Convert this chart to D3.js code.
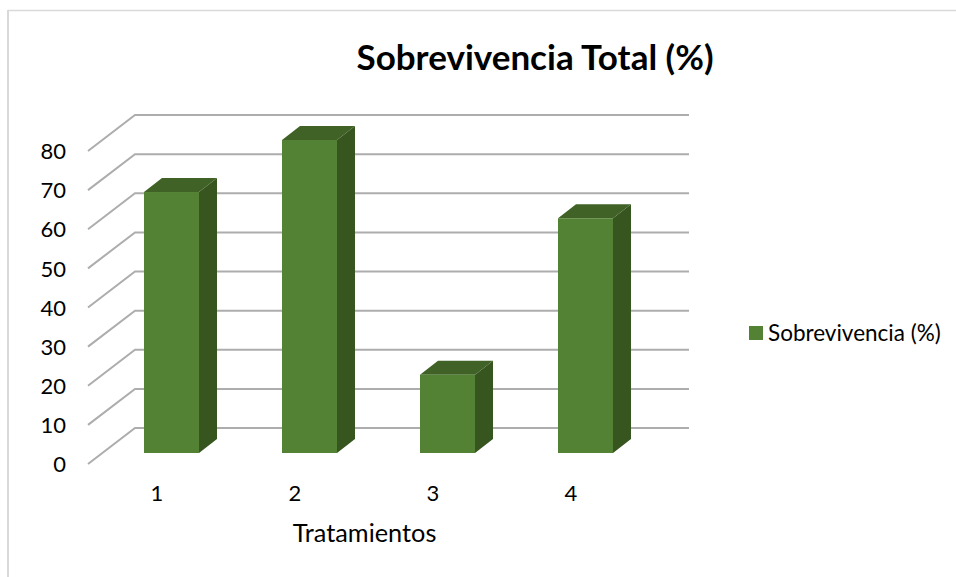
<!DOCTYPE html>
<html><head><meta charset="utf-8">
<script src="https://cdn.jsdelivr.net/npm/d3@7/dist/d3.min.js"></script>
<style>html,body{margin:0;padding:0;background:#fff}svg{display:block}text{font-family:Lato,"Open Sans",sans-serif;fill:#000}</style>
</head><body><svg id="c" width="956" height="577"></svg>
<script>
const categories=["1","2","3","4"];
const seriesName="Sobrevivencia (%)";
const values=[66.7,80,20,60];
const yTicks=[0,10,20,30,40,50,60,70,80];
const titleText="Sobrevivencia Total (%)";
const xTitle="Tratamientos";

const svg=d3.select("#c");
const x=d3.scaleBand().domain(categories).range([88,640]);
const y=d3.scaleLinear().domain([0,80]).range([453,140]);
const barW=55, dx=18, dy=14, barShift=x.step()/2+14.5-barW/2;
const gridFrontY=v=>y(v)+11, gridBackY=v=>y(v)-25;
const xFront=88,xBack=135,xEnd=689;

svg.append("path").attr("d","M956,10.5H8").attr("fill","none").attr("stroke","#d9d9d9").attr("stroke-width",1.5);
svg.append("rect").attr("x",7).attr("y",10).attr("width",2).attr("height",567).attr("fill","#d9d9d9");

const grid=svg.append("g").attr("fill","none").attr("stroke","#adadad").attr("stroke-width",2);
grid.selectAll("path").data(yTicks).join("path")
  .attr("d",v=>`M${xFront},${gridFrontY(v)}L${xBack},${gridBackY(v)}H${xEnd}`);

svg.append("g").selectAll("text").data(yTicks).join("text")
  .attr("x",66).attr("y",v=>gridFrontY(v)+0.5).attr("dy","0.35em")
  .attr("text-anchor","end").attr("font-size",22).text(d=>d);

const bars=svg.append("g").selectAll("g").data(categories).join("g");
bars.each(function(c,i){
  const g=d3.select(this),l=x(c)+barShift,r=l+barW,t=y(values[i]),b=y(0);
  g.append("path").attr("fill","#36551f").attr("d",`M${r},${t}L${r+dx},${t-dy}V${b-dy}L${r},${b}Z`);
  g.append("path").attr("fill","#406226").attr("d",`M${l},${t}L${l+dx},${t-dy}H${r+dx}L${r},${t}Z`);
  g.append("rect").attr("x",l).attr("y",t).attr("width",barW).attr("height",b-t).attr("fill","#548235");
});

svg.append("g").selectAll("text").data(categories).join("text")
  .attr("x",c=>x(c)+x.bandwidth()/2).attr("y",494).attr("dy","0.33em")
  .attr("text-anchor","middle").attr("font-size",22).text(d=>d);

svg.append("text").attr("x",364.5).attr("y",534).attr("dy","0.33em").attr("text-anchor","middle").attr("font-size",25.3).text(xTitle);
svg.append("text").attr("x",535).attr("y",58).attr("dy","0.33em").attr("text-anchor","middle").attr("font-size",35).attr("font-weight",700).text(titleText);

svg.append("rect").attr("x",749).attr("y",326).attr("width",14).attr("height",14).attr("fill","#548235");
svg.append("text").attr("x",768).attr("y",334).attr("dy","0.33em").attr("font-size",22.5).text(seriesName);
</script></body></html>
